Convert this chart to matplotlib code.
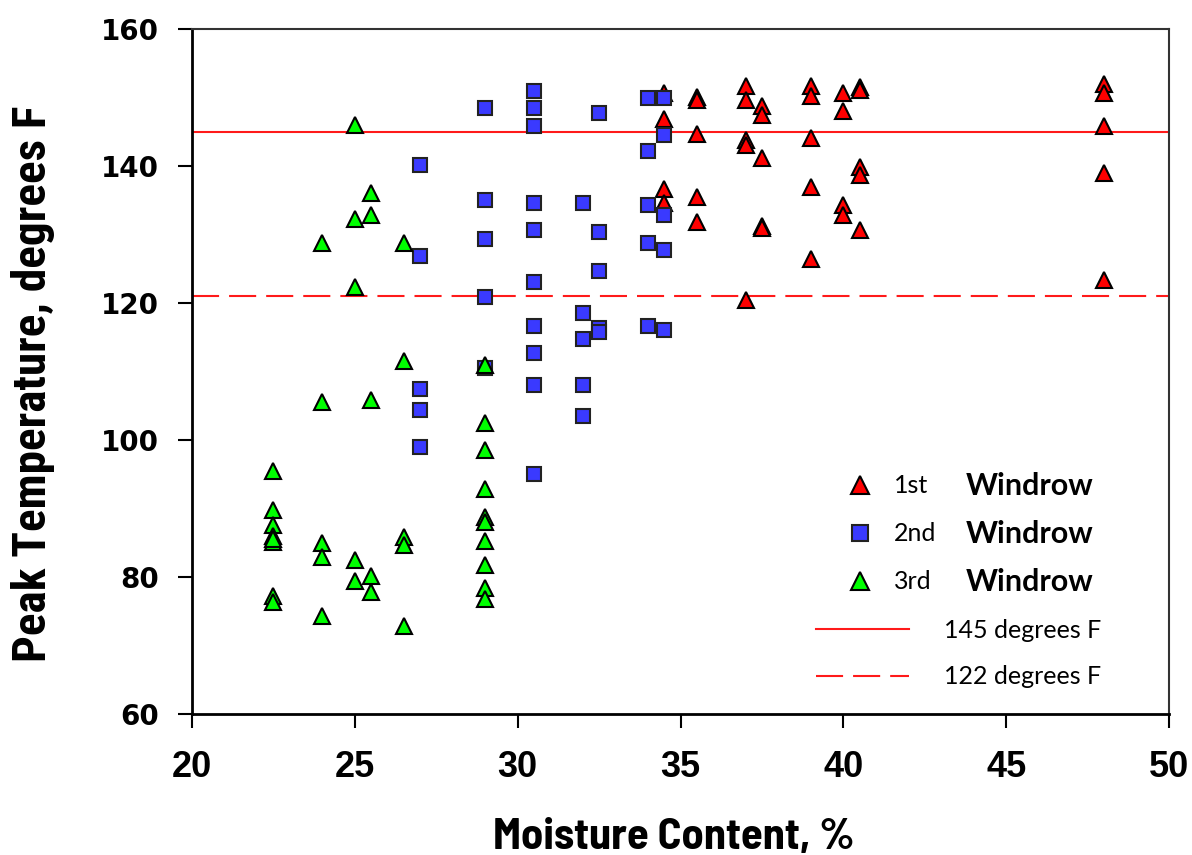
import numpy as np
import matplotlib
matplotlib.use("Agg")
import matplotlib.pyplot as plt
from matplotlib.lines import Line2D

# 1st windrow (red triangles)
x_1st = [34.5] * 4 + [35.5] * 5 + [37] * 5 + [37.5] * 5 + [39] * 5 + [40] * 4 + [40.5] * 5 + [48] * 5
y_1st = [150.6, 146.8, 136.7, 134.6,
         150.0, 149.6, 144.7, 135.5, 131.8,
         151.7, 149.7, 143.8, 143.0, 120.4,
         148.7, 147.4, 141.2, 131.3, 131.0,
         151.7, 150.2, 144.1, 136.9, 126.4,
         150.6, 148.0, 134.3, 132.8,
         151.5, 151.1, 139.9, 138.7, 130.6,
         152.0, 150.6, 145.9, 139.0, 123.3]

# 2nd windrow (blue squares)
x_2nd = [27] * 5 + [29] * 5 + [30.5] * 10 + [32] * 5 + [32.5] * 5 + [34] * 5 + [34.5] * 5
y_2nd = [140.2, 126.9, 107.4, 104.4, 99.0,
         148.5, 135.1, 129.3, 120.9, 110.5,
         151.0, 148.5, 145.8, 134.6, 130.7, 123.0, 116.6, 112.7, 108.1, 95.1,
         134.6, 118.5, 114.8, 108.0, 103.5,
         147.8, 130.4, 124.6, 116.3, 115.7,
         149.9, 142.2, 134.3, 128.8, 116.6,
         149.9, 144.5, 132.9, 127.7, 116.0]

# 3rd windrow (green triangles)
x_3rd = [22.5] * 8 + [24] * 5 + [25] * 5 + [25.5] * 5 + [26.5] * 5 + [29] * 10
y_3rd = [95.5, 89.8, 87.6, 86.0, 85.1, 77.3, 76.4, 85.5,
         128.7, 105.5, 85.0, 82.9, 74.3,
         146.0, 132.2, 122.3, 82.5, 79.4,
         136.1, 132.8, 105.9, 80.1, 77.8,
         128.7, 111.5, 85.8, 84.6, 72.9,
         110.9, 102.5, 98.5, 92.8, 88.8, 88.0, 85.2, 81.8, 78.4, 76.8]

limit_high = 145
limit_low = 121

x_ticks = [20, 25, 30, 35, 40, 45, 50]
y_ticks = [60, 80, 100, 120, 140, 160]

cond = ["Roboto Condensed", "DejaVu Sans"]
semi = ["Barlow Semi Condensed", "Roboto Condensed", "DejaVu Sans"]

fig = plt.figure(figsize=(11.92, 8.55), dpi=100)
ax = fig.add_axes([0.1611, 0.1649, 0.8196, 0.8012])

ax.axhline(limit_high, color="#ff1a1a", lw=1.5, zorder=1)
ax.axhline(limit_low, color="#ff1a1a", lw=1.5, dashes=(13, 4.8), zorder=1)

ax.plot(x_1st, y_1st, ls="none", marker="^", ms=12, mfc="#ff0000", mec="black", mew=1.5, zorder=3)
ax.plot(x_2nd, y_2nd, ls="none", marker="s", ms=10.5, mfc="#3a3aff", mec="#222222", mew=1.5, zorder=4)
ax.plot(x_3rd, y_3rd, ls="none", marker="^", ms=12, mfc="#00ff00", mec="black", mew=1.5, zorder=5)

ax.set_xlim(20, 50)
ax.set_ylim(60, 160)
ax.set_xticks(x_ticks)
ax.set_yticks(y_ticks)
ax.set_xticklabels([str(v) for v in x_ticks], family="Liberation Sans", weight="bold", fontsize=26)
ax.set_yticklabels([str(v) for v in y_ticks], family="DejaVu Sans", weight="bold", fontsize=20)
ax.tick_params(axis="x", length=10, width=1.5, pad=16)
ax.tick_params(axis="y", length=10, width=1.5, pad=14)

for side in ["left", "bottom"]:
    ax.spines[side].set_linewidth(2)
for side in ["top", "right"]:
    ax.spines[side].set_linewidth(1.5)
    ax.spines[side].set_color("#333333")

ax.set_xlabel("Moisture Content, %", family=semi, weight="bold", fontsize=32)
ax.xaxis.set_label_coords(0.493, -0.180)
ax.xaxis.label.set_verticalalignment("center")
ax.set_ylabel("Peak Temperature, degrees F", family=cond, weight="bold", fontsize=34)
ax.yaxis.set_label_coords(-0.163, 0.482)
ax.yaxis.label.set_verticalalignment("center")

# legend: marker entries
mk = [Line2D([], [], ls="none", marker="^", ms=13, mfc="#ff0000", mec="black", mew=1.5),
      Line2D([], [], ls="none", marker="s", ms=11, mfc="#3a3aff", mec="#222222", mew=1.5),
      Line2D([], [], ls="none", marker="^", ms=13, mfc="#00ff00", mec="black", mew=1.5)]
leg1 = ax.legend(mk, ["1st", "2nd", "3rd"], loc="center left", bbox_to_anchor=(0.671, 0.2628),
                 frameon=False, borderpad=0, borderaxespad=0, handlelength=1.0,
                 handletextpad=0.85, labelspacing=1.0, prop={"family": "Lato", "size": 18})
ax.add_artist(leg1)
for t in leg1.get_texts():
    ax.annotate("Windrow", xy=(0, 0.5), xycoords=t, xytext=(52, 0), textcoords="offset points",
                va="center", ha="left", family="Lato", weight="bold", fontsize=22, zorder=10)

ln = [Line2D([], [], color="#ff1a1a", lw=1.5),
      Line2D([], [], color="#ff1a1a", lw=1.5, dashes=(13, 4.8))]
leg2 = ax.legend(ln, ["145 degrees F", "122 degrees F"], loc="center left", bbox_to_anchor=(0.6387, 0.0883),
                 frameon=False, borderpad=0, borderaxespad=0, handlelength=3.7,
                 handletextpad=1.4, labelspacing=0.95, prop={"family": "Lato", "size": 18})

fig.savefig("out.png", dpi=100)
